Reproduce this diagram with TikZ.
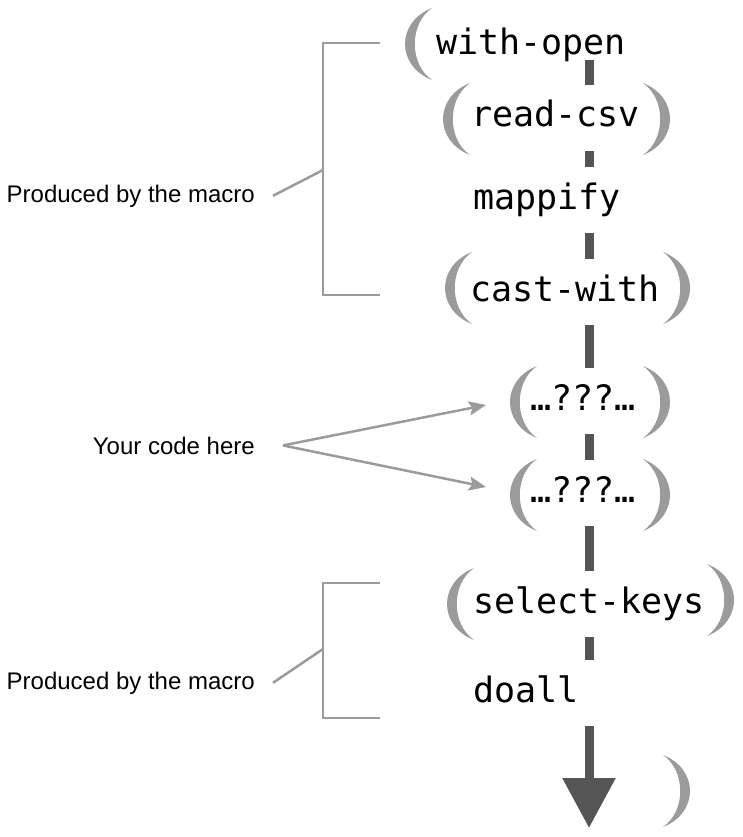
\documentclass[tikz,border=0pt]{standalone}
\usepackage{fontspec}
\setsansfont{Liberation Sans}
\newfontfamily\codefont{DejaVu Sans Mono}
\usetikzlibrary{arrows.meta,calc}
\definecolor{spinegray}{HTML}{555555}
\definecolor{parengray}{HTML}{9B9B9B}

\begin{document}
\begin{tikzpicture}[x=1pt,y=-1pt,>=Latex,
 code/.style={anchor=base west,inner xsep=0pt,inner ysep=16pt,text height=26pt,text depth=8pt,font=\codefont\fontsize{35}{40}\selectfont},
 note/.style={anchor=base east,inner ysep=0pt,font=\sffamily\fontsize{24}{28}\selectfont},
 spine/.style={line width=9pt,draw=spinegray},
 bracket/.style={line width=2.5pt,draw=parengray},
 pointer/.style={-{Stealth[length=17pt,width=14pt,inset=3pt]},line width=2.5pt,draw=parengray,fill=parengray}]
\useasboundingbox (0,0) rectangle (743,837);
\node[code,text depth=0pt,inner ysep=5pt] (withopen) at (436,55) {with-open};
\node[code] (readcsv) at (471,127) {read-csv};
\node[code] (mappify) at (473,209) {mappify};
\node[code] (castwith) at (470,301) {cast-with};
\node[code] (yours1) at (530,410) {…???…};
\node[code] (yours2) at (530,502) {…???…};
\node[code] (selectkeys) at (473,613) {select-keys};
\node[code] (doall) at (473,702) {doall};
\coordinate (spine) at (589,0);
\coordinate (tip) at (589,828);
\foreach \a/\b in {withopen/readcsv,readcsv/mappify,mappify/castwith,castwith/yours1,yours1/yours2,yours2/selectkeys,selectkeys/doall} \draw[spine] (\a.south -| spine)--(\b.north -| spine);
\draw[spine,-{Triangle[length=50pt,width=51pt]}] (doall.south -| spine)--(tip);
\foreach \lx/\cy in {405/44,443/119,445/288,510/402,510/495,447/604}
 \fill[parengray] (\lx+27,\cy-36) .. controls (\lx-9,\cy-22) and (\lx-9,\cy+22) .. (\lx+27,\cy+36) .. controls (\lx+4,\cy+20) and (\lx+4,\cy-20) .. cycle;
\foreach \rx/\cy in {643/119,663/288,643/402,643/495,707/600,663/791}
 \fill[parengray] (\rx,\cy-36) .. controls (\rx+36,\cy-22) and (\rx+36,\cy+22) .. (\rx,\cy+36) .. controls (\rx+23,\cy+20) and (\rx+23,\cy-20) .. cycle;
\node[note,inner xsep=18pt] (macrotop) at (273,202) {Produced by the macro};
\node[note,inner xsep=28pt] (yourcode) at (283,454) {Your code here};
\node[note,inner xsep=18pt] (macrobottom) at (273,689) {Produced by the macro};
\coordinate (topjoin) at (323,170);
\coordinate (bottomjoin) at (323,649);
\coordinate (into1) at (486,405);
\coordinate (into2) at (486,487);
\draw[bracket] (380,43) -| (323,295) -- (380,295);
\draw[bracket] (380,583) -| (323,718) -- (380,718);
\draw[bracket] (macrotop.east)--(topjoin);
\draw[bracket] (macrobottom.east)--(bottomjoin);
\draw[pointer] (yourcode.east)--(into1);
\draw[pointer] (yourcode.east)--(into2);
\end{tikzpicture}
\end{document}
